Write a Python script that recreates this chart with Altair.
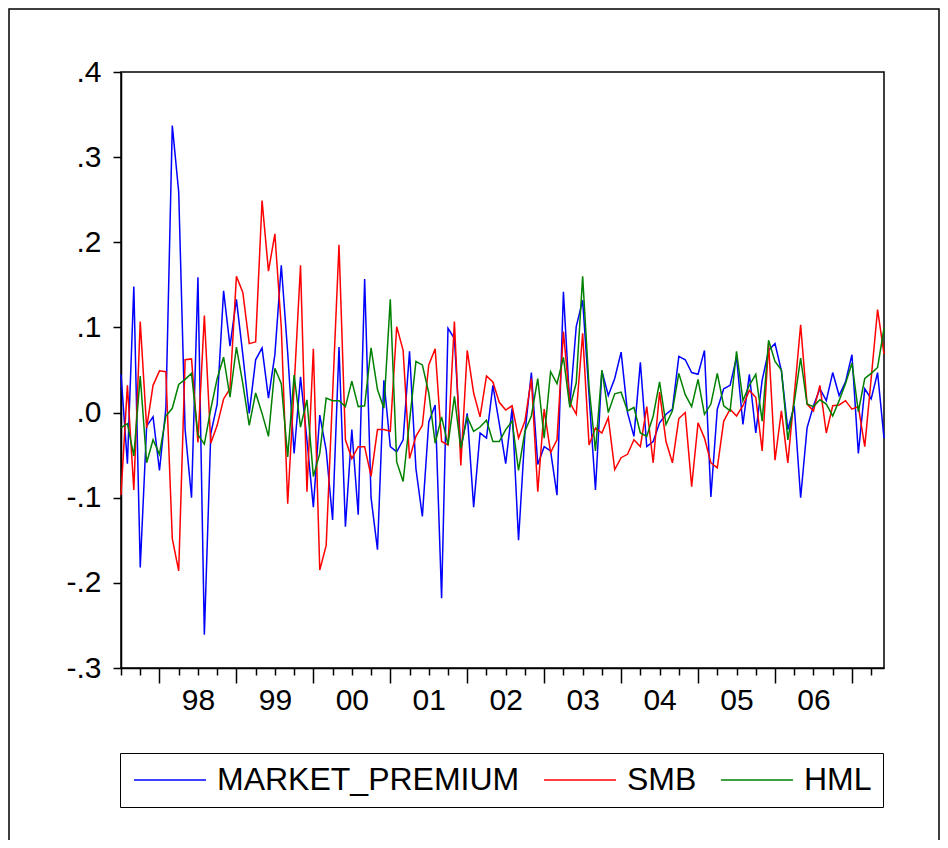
import altair as alt
import pandas as pd

# Monthly observations: index 0 = Jul 1997 ... index 119 = Jun 2007
obs = list(range(120))

market_premium = [
    0.045, -0.060, 0.148, -0.182, -0.016, -0.005, -0.068, 0.005, 0.337, 0.259,
    -0.020, -0.100, 0.159, -0.261, -0.025, 0.010, 0.143, 0.078, 0.133, 0.068,
    -0.001, 0.062, 0.076, 0.017, 0.068, 0.173, 0.070, -0.048, 0.042, -0.032,
    -0.111, -0.003, -0.044, -0.126, 0.077, -0.134, -0.020, -0.120, 0.157, -0.100,
    -0.161, 0.038, -0.040, -0.046, -0.032, 0.072, -0.066, -0.122, -0.011, 0.009,
    -0.218, 0.099, 0.087, -0.044, -0.001, -0.111, -0.024, -0.030, 0.032, -0.013,
    -0.060, 0.005, -0.150, -0.024, 0.047, -0.061, -0.040, -0.045, -0.097, 0.142,
    0.008, 0.101, 0.132, 0.020, -0.091, 0.049, 0.020, 0.040, 0.071, 0.000,
    -0.028, 0.059, -0.040, -0.034, -0.012, -0.002, 0.004, 0.066, 0.062, 0.047,
    0.045, 0.073, -0.099, 0.004, 0.028, 0.032, 0.065, -0.014, 0.045, -0.024,
    0.038, 0.073, 0.081, 0.049, -0.020, 0.008, -0.100, -0.018, 0.008, 0.028,
    0.014, 0.047, 0.020, 0.036, 0.068, -0.048, 0.028, 0.016, 0.047, -0.030,
]

smb = [
    -0.097, 0.032, -0.091, 0.107, -0.018, 0.032, 0.049, 0.048, -0.148, -0.186,
    0.062, 0.063, -0.035, 0.114, -0.036, -0.015, 0.016, 0.028, 0.160, 0.141,
    0.081, 0.083, 0.249, 0.166, 0.210, 0.100, -0.107, 0.030, 0.173, -0.093,
    0.075, -0.185, -0.156, 0.021, 0.197, -0.032, -0.054, -0.040, -0.040, -0.075,
    -0.020, -0.020, -0.022, 0.101, 0.073, -0.054, -0.028, -0.015, 0.056, 0.075,
    -0.034, -0.038, 0.107, -0.062, 0.073, 0.023, -0.005, 0.043, 0.036, 0.012,
    0.003, 0.008, -0.030, -0.010, 0.040, -0.093, 0.004, -0.047, -0.032, 0.095,
    0.012, -0.002, 0.093, -0.038, -0.018, -0.024, -0.006, -0.067, -0.053, -0.049,
    -0.032, -0.040, 0.007, -0.059, 0.024, -0.034, -0.059, -0.007, 0.000, -0.087,
    -0.012, -0.030, -0.059, -0.065, -0.010, 0.004, -0.004, 0.008, 0.026, 0.018,
    -0.045, 0.081, -0.056, 0.002, -0.059, 0.020, 0.103, 0.010, 0.002, 0.032,
    -0.024, 0.008, 0.009, 0.014, 0.004, 0.007, -0.040, 0.040, 0.121, 0.069,
]

hml = [
    -0.018, -0.013, -0.051, 0.043, -0.059, -0.032, -0.049, -0.004, 0.005, 0.033,
    0.039, 0.046, -0.026, -0.037, 0.004, 0.040, 0.065, 0.018, 0.077, 0.034,
    -0.015, 0.023, -0.001, -0.028, 0.052, 0.034, -0.052, 0.044, -0.017, 0.015,
    -0.075, -0.048, 0.017, 0.014, 0.014, 0.007, 0.037, 0.007, 0.008, 0.076,
    0.027, 0.005, 0.133, -0.058, -0.081, -0.010, 0.060, 0.056, 0.023, -0.036,
    -0.005, -0.038, 0.019, -0.042, -0.005, -0.022, -0.017, -0.009, -0.034, -0.034,
    -0.020, -0.010, -0.068, -0.022, -0.004, 0.040, -0.030, 0.048, 0.034, 0.065,
    0.006, 0.035, 0.160, 0.030, -0.045, 0.050, 0.000, 0.022, 0.024, 0.002,
    0.006, -0.024, -0.028, -0.004, 0.036, -0.014, 0.002, 0.046, 0.021, 0.007,
    0.039, -0.002, 0.010, 0.046, 0.008, 0.002, 0.072, 0.014, 0.032, 0.045,
    -0.010, 0.085, 0.060, 0.050, -0.032, 0.012, 0.064, 0.010, 0.007, 0.015,
    0.010, -0.004, 0.014, 0.034, 0.058, 0.001, 0.040, 0.046, 0.053, 0.099,
]

series_names = ["MARKET_PREMIUM", "SMB", "HML"]
series_colors = ["#0000FF", "#FF0000", "#008000"]

x_tick_values = list(range(0, 120, 3))
year_label_values = [12, 24, 36, 48, 60, 72, 84, 96, 108]
year_labels = ["98", "99", "00", "01", "02", "03", "04", "05", "06"]
y_tick_values = [-0.3, -0.2, -0.1, 0.0, 0.1, 0.2, 0.3, 0.4]

rows = []
for name, vals in zip(series_names, [market_premium, smb, hml]):
    for t, v in zip(obs, vals):
        rows.append({"obs": t, "value": v, "series": name})
df = pd.DataFrame(rows)

pos_arr = "[" + ",".join(str(p) for p in year_label_values) + "]"
lab_arr = "[" + ",".join(f"'{l}'" for l in year_labels) + "]"
x_label_expr = (
    f"indexof({pos_arr}, datum.value) >= 0 ? "
    f"{lab_arr}[indexof({pos_arr}, datum.value)] : ''"
)
# EViews style: ".4", ".0", "-.1" with a plain hyphen
y_label_expr = (
    "(datum.value < -0.001 ? '-' : '') + '.' + "
    "format(round(abs(datum.value) * 10), 'd')"
)

FONT = "Liberation Sans"

lines = alt.Chart(df).mark_line(strokeWidth=1.5).encode(
    x=alt.X(
        "obs:Q",
        title=None,
        scale=alt.Scale(domain=[0, 119], nice=False, zero=False),
        axis=alt.Axis(
            values=x_tick_values,
            tickSize={"condition": {"test": "datum.value % 12 == 6", "value": 15}, "value": 7},
            labelExpr=x_label_expr,
            labelPadding=10,
            labelAngle=0,
            labelOverlap=False,
            labelFlush=False,
            grid=False,
        ),
    ),
    y=alt.Y(
        "value:Q",
        title=None,
        scale=alt.Scale(domain=[-0.3, 0.4], nice=False, zero=False),
        axis=alt.Axis(
            values=y_tick_values,
            tickSize=8,
            labelExpr=y_label_expr,
            labelPadding=12,
            labelOverlap=False,
            labelFlush=False,
            grid=False,
        ),
    ),
    color=alt.Color(
        "series:N",
        title=None,
        sort=series_names,
        scale=alt.Scale(domain=series_names, range=series_colors),
        legend=alt.Legend(
            orient="none",
            legendX=-1,
            legendY=681,
            direction="horizontal",
            symbolType="M-4,0H4",
            symbolSize=324,
            symbolStrokeWidth=1.5,
            symbolOffset=23,
            labelFont=FONT,
            labelFontSize=32,
            labelColor="black",
            labelLimit=500,
            labelOffset=31,
            columnPadding=21,
            padding=11,
            strokeColor="black",
            fillColor="white",
        ),
    ),
)

frame = alt.Chart(pd.DataFrame({"f": [0]})).mark_rect(
    fillOpacity=0, stroke="black", strokeWidth=1.5
).encode(
    x=alt.value(-112), x2=alt.value(818), y=alt.value(-63), y2=alt.value(800)
)

chart = (
    alt.layer(frame, lines)
    .properties(
        width=763,
        height=596,
        autosize=alt.AutoSizeParams(type="none"),
        padding={"left": 113, "top": 64, "right": 56, "bottom": 172},
        background="white",
    )
    .configure_view(stroke="black", strokeWidth=1.5)
    .configure_axis(
        labelFont=FONT,
        labelFontSize=30,
        labelColor="black",
        tickColor="black",
        tickWidth=1.5,
        domainColor="black",
        domainWidth=1.5,
    )
)

chart.save("out.html", embed_options={"renderer": "svg", "actions": False})
